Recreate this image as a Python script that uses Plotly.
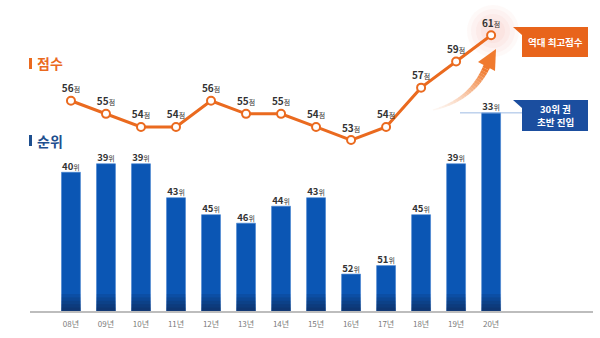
import plotly.graph_objects as go

# --- data -------------------------------------------------------------
years = ["08년", "09년", "10년", "11년", "12년", "13년", "14년",
         "15년", "16년", "17년", "18년", "19년", "20년"]
scores = [56, 55, 54, 54, 56, 55, 55, 54, 53, 54, 57, 59, 61]   # 점수
ranks = [40, 39, 39, 43, 45, 46, 44, 43, 52, 51, 45, 39, 33]    # 순위

# --- canvas geometry --------------------------------------------------
FW, FH = 600, 338
ML, MR, MT, MB = 30, 7, 0, 27
PW, PH = FW - ML - MR, FH - MT - MB

def px(x):
    return (x - ML) / PW

def py(y):
    return (FH - MB - y) / PH

ORANGE = "#EA6A1F"
BLUE = "#0B56B4"
NAVY = "#0F2C5C"
RANK_BASE = 56.35          # rank drawn at the baseline
RANK_TOP = 19.7            # rank at the top edge of the plot

fig = go.Figure()

# rank bars grow upward from the baseline toward better (smaller) ranks
fig.add_trace(go.Bar(
    x=years, y=[r - RANK_BASE for r in ranks], base=RANK_BASE,
    width=0.54, marker=dict(color=BLUE, line=dict(color="#3F7FD0", width=0.6)),
    yaxis="y", hoverinfo="skip", showlegend=False))

# dark fade at the foot of each bar
for h, op in [(2.0, 0.18), (1.6, 0.2), (1.2, 0.22), (0.8, 0.25), (0.4, 0.3)]:
    fig.add_trace(go.Bar(
        x=years, y=[-h] * len(years), base=RANK_BASE, width=0.54,
        marker=dict(color=NAVY, opacity=op, line=dict(width=0)),
        yaxis="y", hoverinfo="skip", showlegend=False))

# rank labels
fig.add_trace(go.Scatter(
    x=years, y=ranks, mode="text",
    text=[f"<b>{r}</b><span style='font-size:7px'>위</span>" for r in ranks],
    textposition="top center",
    textfont=dict(size=9.5, color="#333333", family="Noto Sans CJK KR"),
    yaxis="y", hoverinfo="skip", showlegend=False))

# score line
fig.add_trace(go.Scatter(
    x=years, y=scores, mode="lines+markers+text",
    line=dict(color=ORANGE, width=3),
    marker=dict(size=8, color="white", line=dict(color=ORANGE, width=2)),
    text=[f"<b>{s}</b><span style='font-size:7px'>점</span>" for s in scores],
    textposition="top center",
    textfont=dict(size=10, color="#333333", family="Noto Sans CJK KR"),
    yaxis="y2", hoverinfo="skip", showlegend=False))

shapes = []

# soft glow behind the record score
for r, op in [(26, 0.07), (22, 0.08), (17, 0.09), (12, 0.10)]:
    shapes.append(dict(type="circle", xref="paper", yref="paper",
                       x0=px(493 - r), x1=px(493 + r), y0=py(31 + r), y1=py(31 - r),
                       fillcolor="#F3A6A0", opacity=op, line=dict(width=0), layer="below"))

# curved rising arrow, fading in from its tail
p0, p1, p2 = (433, 110), (472, 100), (487, 66)
n = 24
pts = []
for i in range(n + 1):
    t = i / n
    x = (1 - t) ** 2 * p0[0] + 2 * (1 - t) * t * p1[0] + t ** 2 * p2[0]
    y = (1 - t) ** 2 * p0[1] + 2 * (1 - t) * t * p1[1] + t ** 2 * p2[1]
    pts.append((x, y))
for i in range(n):
    t = (i + 1) / n
    (xa, ya), (xb, yb) = pts[i], pts[i + 1]
    shapes.append(dict(type="line", xref="paper", yref="paper",
                       x0=px(xa), y0=py(ya), x1=px(xb), y1=py(yb),
                       line=dict(color="#F07A2E", width=1 + 6 * t),
                       opacity=min(1.0, 0.05 + t ** 1.5)))
shapes.append(dict(type="path", xref="paper", yref="paper",
                   path=f"M {px(496)} {py(49)} L {px(478)} {py(62)} L {px(495)} {py(71)} Z",
                   fillcolor="#F07A2E", line=dict(width=0)))

# callout: record score
shapes.append(dict(type="path", xref="paper", yref="paper",
                   path=(f"M {px(513)} {py(27)} L {px(588)} {py(27)} L {px(588)} {py(57)} "
                         f"L {px(522)} {py(57)} L {px(522)} {py(35)} Z"),
                   fillcolor="#E8641B", line=dict(width=0)))
# callout: rank entry
shapes.append(dict(type="line", xref="paper", yref="y", x0=px(460), x1=px(522),
                   y0=ranks[-1], y1=ranks[-1], line=dict(color="#9DBBE3", width=1)))
shapes.append(dict(type="path", xref="paper", yref="paper",
                   path=(f"M {px(513)} {py(100)} L {px(588)} {py(100)} L {px(588)} {py(131)} "
                         f"L {px(522)} {py(131)} L {px(522)} {py(108)} Z"),
                   fillcolor="#1B4E9F", line=dict(width=0)))

# section markers
shapes.append(dict(type="rect", xref="paper", yref="paper",
                   x0=px(29), x1=px(32), y0=py(58), y1=py(69),
                   fillcolor=ORANGE, line=dict(width=0)))
shapes.append(dict(type="rect", xref="paper", yref="paper",
                   x0=px(29), x1=px(32), y0=py(135), y1=py(146),
                   fillcolor="#1E4F8F", line=dict(width=0)))

def note(x, y, text, size, color, anchor="center"):
    return dict(x=px(x), y=py(y), xref="paper", yref="paper", xanchor=anchor,
                yanchor="middle", text=text, showarrow=False,
                font=dict(size=size, color=color, family="Noto Sans CJK KR"))

annotations = [
    note(35, 63.5, "<b>점수</b>", 14, ORANGE, "left"),
    note(35, 140.5, "<b>순위</b>", 14, "#1E4F8F", "left"),
    note(555, 42, "<b>역대 최고점수</b>", 9.5, "white"),
    note(555, 109, "<b>30위 권</b>", 9.5, "white"),
    note(555, 122, "<b>초반 진입</b>", 9.5, "white"),
]

fig.update_layout(
    width=FW, height=FH,
    margin=dict(l=ML, r=MR, t=MT, b=MB),
    paper_bgcolor="white", plot_bgcolor="white",
    barmode="overlay",
    font=dict(family="Noto Sans CJK KR"),
    xaxis=dict(type="category", range=[-1.17, 14.91], showgrid=False, zeroline=False,
               showline=True, linecolor="#BDBDBD", linewidth=2, ticks="",
               tickfont=dict(size=8, color="#7A7A7A"), ticklabelstandoff=4),
    yaxis=dict(range=[RANK_BASE, RANK_TOP], visible=False, showgrid=False),
    yaxis2=dict(range=[39.95, 63.69], overlaying="y", visible=False, showgrid=False),
    shapes=shapes,
    annotations=annotations,
)

fig.write_html("out.html")
